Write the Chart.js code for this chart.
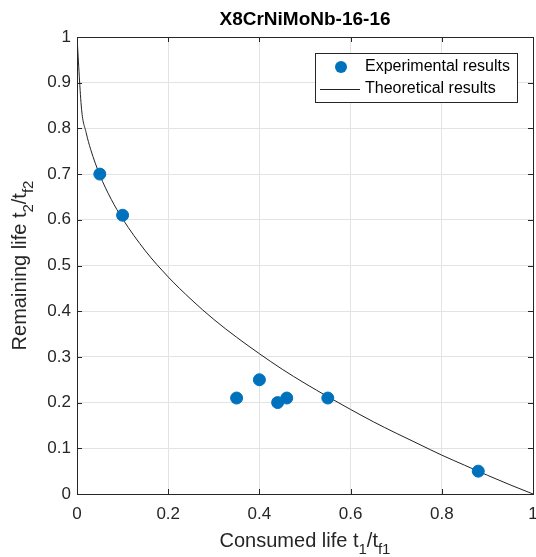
<!DOCTYPE html>
<html>
<head>
<meta charset="utf-8">
<title>X8CrNiMoNb-16-16</title>
<script src="https://cdn.jsdelivr.net/npm/chart.js@4.4.0/dist/chart.umd.min.js"></script>
<style>
  html, body { margin: 0; padding: 0; background: #fff; }
  #wrap { width: 536px; height: 557px; overflow: hidden; }
  #chart { display: block; }
</style>
</head>
<body>
<div id="wrap"><canvas id="chart" width="544" height="557"></canvas></div>
<script>
// experimental points (consumed life / remaining life)
const expX = [0.05, 0.10, 0.35, 0.40, 0.44, 0.46, 0.55, 0.88];
const expY = [0.70, 0.61, 0.21, 0.25, 0.20, 0.21, 0.21, 0.05];

// theoretical curve
const theoX = [0, 0.01, 0.02, 0.03, 0.05, 0.075, 0.10, 0.15, 0.20, 0.25, 0.30, 0.35, 0.40, 0.45,
               0.50, 0.55, 0.60, 0.65, 0.70, 0.75, 0.80, 0.85, 0.90, 0.95, 1.0];
const theoY = [1.0, 0.842, 0.791, 0.754, 0.698, 0.645, 0.602, 0.532, 0.475, 0.426, 0.382, 0.343,
               0.307, 0.273, 0.242, 0.213, 0.185, 0.158, 0.133, 0.109, 0.085, 0.063, 0.041, 0.020, 0.0];

const xTicks = [0, 0.2, 0.4, 0.6, 0.8, 1];
const yTicks = [0, 0.1, 0.2, 0.3, 0.4, 0.5, 0.6, 0.7, 0.8, 0.9, 1];

const FONT = 'Arial, "Liberation Sans", Helvetica, sans-serif';
const AXIS = '#262626';
const BLUE = '#0072BD';

const toPts = (xs, ys) => xs.map((x, i) => ({ x: x, y: ys[i] }));

// text with subscripts: parts = [[text, isSub], ...]
function partsWidth(ctx, parts, size) {
  let w = 0;
  parts.forEach(([t, sub]) => {
    ctx.font = (sub ? Math.round(size * 0.75) : size) + 'px ' + FONT;
    w += ctx.measureText(t).width;
  });
  return w;
}
function drawParts(ctx, parts, x, y, size) {
  parts.forEach(([t, sub]) => {
    ctx.font = (sub ? Math.round(size * 0.75) : size) + 'px ' + FONT;
    ctx.fillText(t, x, sub ? y + size * 0.35 : y);
    x += ctx.measureText(t).width;
  });
}

const matlabLook = {
  id: 'matlabLook',
  afterDraw(chart) {
    const { ctx, chartArea: a, scales } = chart;
    ctx.save();

    // inward ticks on all four sides
    ctx.strokeStyle = AXIS;
    ctx.lineWidth = 1;
    ctx.beginPath();
    xTicks.forEach(v => {
      const px = Math.round(scales.x.getPixelForValue(v)) + 0.5;
      ctx.moveTo(px, a.bottom); ctx.lineTo(px, a.bottom - 5);
      ctx.moveTo(px, a.top); ctx.lineTo(px, a.top + 5);
    });
    yTicks.forEach(v => {
      const py = Math.round(scales.y.getPixelForValue(v)) + 0.5;
      ctx.moveTo(a.left, py); ctx.lineTo(a.left + 5, py);
      ctx.moveTo(a.right, py); ctx.lineTo(a.right - 5, py);
    });
    ctx.stroke();
    ctx.strokeRect(Math.round(a.left) + 0.5, Math.round(a.top) + 0.5,
                   Math.round(a.right - a.left), Math.round(a.bottom - a.top));

    // title
    ctx.fillStyle = '#000';
    ctx.font = 'bold 19px ' + FONT;
    ctx.textAlign = 'center';
    ctx.textBaseline = 'middle';
    ctx.fillText('X8CrNiMoNb-16-16', (a.left + a.right) / 2, 20);

    // axis titles
    ctx.fillStyle = AXIS;
    ctx.textAlign = 'left';
    ctx.textBaseline = 'alphabetic';
    const xParts = [['Consumed life t', false], ['1', true], ['/t', false], ['f1', true]];
    const xw = partsWidth(ctx, xParts, 20);
    drawParts(ctx, xParts, (a.left + a.right) / 2 - xw / 2, 547, 20);

    const yParts = [['Remaining life t', false], ['2', true], ['/t', false], ['f2', true]];
    const yw = partsWidth(ctx, yParts, 20);
    ctx.save();
    ctx.translate(26, (a.top + a.bottom) / 2);
    ctx.rotate(-Math.PI / 2);
    drawParts(ctx, yParts, -yw / 2, 0, 20);
    ctx.restore();

    // legend box
    const lx = 315, ly = 53, lw = 202, lh = 49;
    ctx.fillStyle = '#fff';
    ctx.fillRect(lx, ly, lw, lh);
    ctx.strokeStyle = AXIS;
    ctx.strokeRect(lx + 0.5, ly + 0.5, lw, lh);
    ctx.fillStyle = BLUE;
    ctx.beginPath();
    ctx.arc(341, 67, 6, 0, Math.PI * 2);
    ctx.fill();
    ctx.strokeStyle = '#222';
    ctx.beginPath();
    ctx.moveTo(320, 89.5); ctx.lineTo(360, 89.5);
    ctx.stroke();
    ctx.fillStyle = '#000';
    ctx.font = '16px ' + FONT;
    ctx.textBaseline = 'middle';
    ctx.fillText(chart.data.datasets[0].label, 365, 67);
    ctx.fillText(chart.data.datasets[1].label, 365, 89);

    ctx.restore();
  }
};

new Chart(document.getElementById('chart'), {
  type: 'scatter',
  data: {
    datasets: [
      {
        label: 'Experimental results',
        data: toPts(expX, expY),
        backgroundColor: BLUE,
        borderColor: BLUE,
        pointRadius: 6,
        pointHoverRadius: 6,
        order: 1
      },
      {
        label: 'Theoretical results',
        data: toPts(theoX, theoY),
        showLine: true,
        borderColor: '#222',
        borderWidth: 1,
        pointRadius: 0,
        cubicInterpolationMode: 'monotone',
        order: 2
      }
    ]
  },
  options: {
    responsive: false,
    animation: false,
    layout: { padding: { top: 37, right: 11, left: 0, bottom: 0 } },
    plugins: { legend: { display: false }, title: { display: false }, tooltip: { enabled: false } },
    scales: {
      x: {
        type: 'linear', min: 0, max: 1,
        afterFit: s => { s.height = 63; s.paddingRight = 0; },
        afterBuildTicks: s => { s.ticks = xTicks.map(v => ({ value: v })); },
        grid: { color: '#e3e3e3', drawTicks: false },
        border: { color: AXIS },
        ticks: { padding: 10, color: AXIS, font: { size: 17, family: FONT }, callback: v => String(v) }
      },
      y: {
        type: 'linear', min: 0, max: 1,
        afterFit: s => { s.width = 77; },
        afterBuildTicks: s => { s.ticks = yTicks.map(v => ({ value: v })); },
        grid: { color: '#e3e3e3', drawTicks: false },
        border: { color: AXIS },
        ticks: { padding: 6, color: AXIS, font: { size: 17, family: FONT }, callback: v => String(Math.round(v * 10) / 10) }
      }
    }
  },
  plugins: [matlabLook]
});
</script>
</body>
</html>
